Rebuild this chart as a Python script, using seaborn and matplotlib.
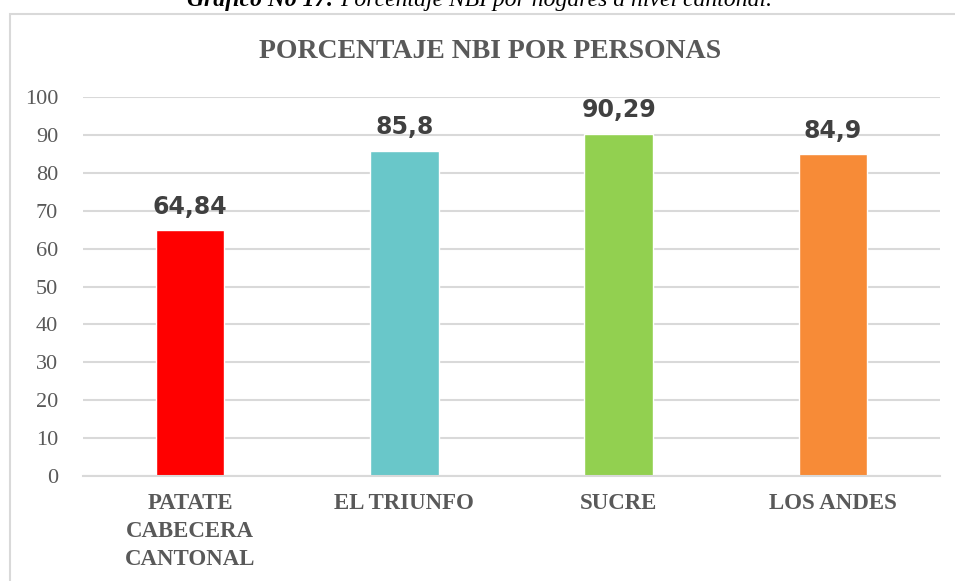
import matplotlib
matplotlib.use("Agg")
import matplotlib.pyplot as plt
import seaborn as sns
import pandas as pd
from matplotlib.patches import Rectangle

categories = ["PATATE\nCABECERA\nCANTONAL", "EL TRIUNFO", "SUCRE", "LOS ANDES"]
values = [64.84, 85.8, 90.29, 84.9]
value_labels = ["64,84", "85,8", "90,29", "84,9"]
colors = ["#FF0000", "#69C7C9", "#92D050", "#F78B37"]
yticks = [0, 10, 20, 30, 40, 50, 60, 70, 80, 90, 100]

sns.set_theme(style="white")
plt.rcParams['font.family'] = ['Liberation Serif', 'DejaVu Serif']

W, H = 955, 581
fig = plt.figure(figsize=(W / 100, H / 100), dpi=100)
ax = fig.add_axes([83 / W, 1 - 476 / H, (940 - 83) / W, (476 - 97) / H])

df = pd.DataFrame({"cat": categories, "val": values})
sns.barplot(data=df, x="cat", y="val", hue="cat", palette=colors, legend=False,
            width=0.32, ax=ax, saturation=1)

ax.set_ylim(0, 100)
ax.set_xlim(-0.5, 3.5)
ax.set_yticks(yticks)
ax.set_yticklabels([str(t) for t in yticks], fontsize=16, color="#595959",
                   family=['Liberation Serif'])
ax.set_xlabel("")
ax.set_ylabel("")
for lbl in ax.get_xticklabels():
    lbl.set_fontsize(16.5)
    lbl.set_fontweight("bold")
    lbl.set_color("#595959")
    lbl.set_family(['Liberation Serif'])
    lbl.set_linespacing(1.45)
ax.tick_params(axis="both", length=0)
ax.tick_params(axis="y", pad=18)
ax.tick_params(axis="x", pad=12)
ax.yaxis.grid(True, color="#D9D9D9", linewidth=1.5)
ax.set_axisbelow(True)
for side in ["top", "right", "left"]:
    ax.spines[side].set_visible(False)
ax.spines["bottom"].set_color("#D9D9D9")
ax.spines["bottom"].set_linewidth(1.5)

for i, (v, t) in enumerate(zip(values, value_labels)):
    ax.text(i, v + 3, t, ha="center", va="bottom", fontsize=17, fontweight="bold",
            color="#404040", family=["DejaVu Sans"])

fig.text(490 / W, 1 - 51 / H, "PORCENTAJE NBI POR PERSONAS", ha="center", va="center",
         fontsize=20, fontweight="bold", color="#595959", family=['Liberation Serif'])

# outer chart border
fig.patches.append(Rectangle((10 / W, -0.1), 1.2, 1 - 14 / H + 0.1, transform=fig.transFigure,
                             fill=False, edgecolor="#D9D9D9", linewidth=1.5))

# partially visible caption at the very top
fig.text(340 / W, 1 - 6 / H, "Gráfico No 17: ", ha="right", va="baseline", fontsize=17,
         fontweight="bold", fontstyle="italic", color="black", family=['Liberation Serif'])
fig.text(340 / W, 1 - 6 / H, "Porcentaje NBI por hogares a nivel cantonal.", ha="left",
         va="baseline", fontsize=17, fontstyle="italic", color="black",
         family=['Liberation Serif'])

fig.savefig("out.png", dpi=100, facecolor="white")
